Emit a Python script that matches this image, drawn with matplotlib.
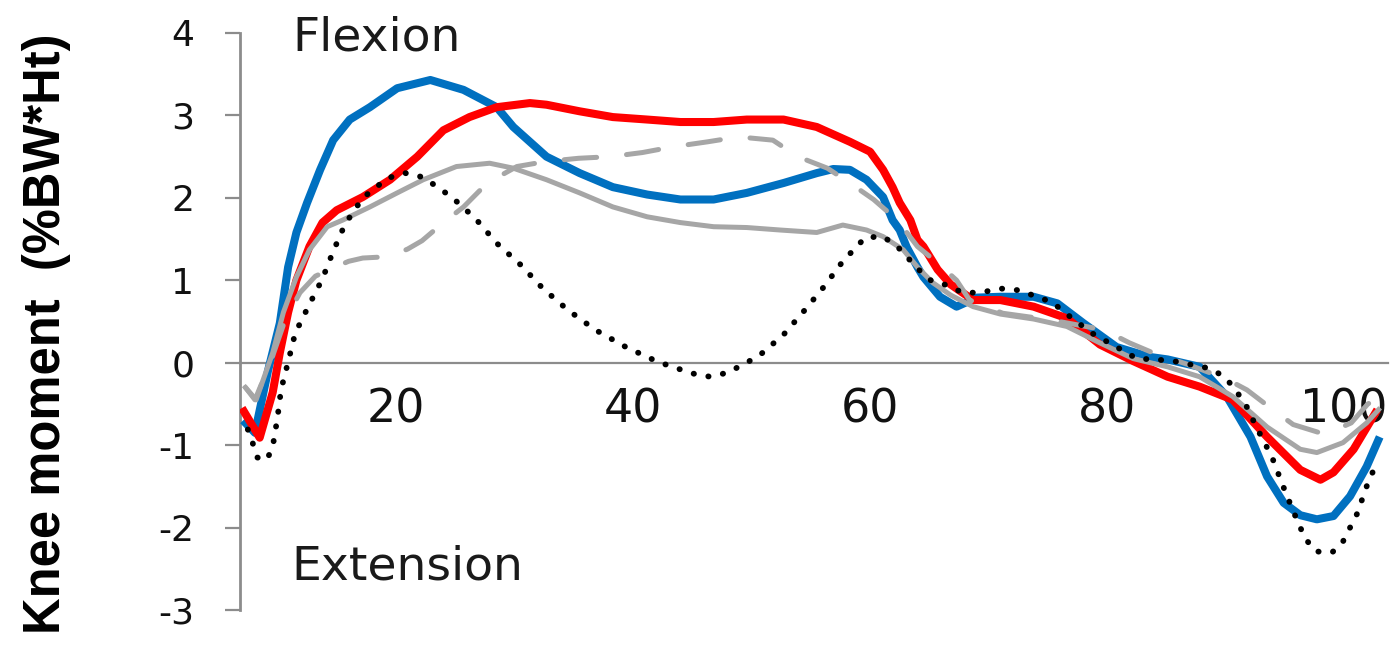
import matplotlib
matplotlib.use("Agg")
import matplotlib.pyplot as plt

plt.rcParams['axes.unicode_minus'] = False
plt.rcParams['font.family'] = ['DejaVu Sans']

# ---- data ----
blue_x = [7.1, 8.1, 9.2, 10.2, 10.9, 11.6, 12.5, 13.6, 14.7, 16.1, 17.8, 20.1, 22.9, 25.7,
          28.5, 29.9, 31.3, 32.7, 35.5, 38.3, 41.2, 44.0, 46.8, 49.6, 52.7, 55.5, 56.9,
          58.3, 59.7, 61.1, 61.9, 62.5, 63.1, 64.0, 64.5, 65.9, 67.3, 69.0, 71.0, 73.8,
          75.8, 78.0, 80.8, 83.6, 85.1, 87.8, 90.1, 92.1, 93.5, 94.9, 96.3, 97.7, 99.1,
          100.5, 101.9, 103.0]
blue_y = [-0.70, -0.85, -0.10, 0.48, 1.16, 1.58, 1.94, 2.34, 2.70, 2.95, 3.10, 3.33, 3.43, 3.31,
          3.10, 2.86, 2.68, 2.50, 2.30, 2.13, 2.04, 1.98, 1.98, 2.06, 2.18, 2.30, 2.35,
          2.34, 2.22, 2.01, 1.73, 1.61, 1.40, 1.16, 1.04, 0.80, 0.68, 0.79, 0.80, 0.80,
          0.72, 0.48, 0.19, 0.07, 0.04, -0.05, -0.41, -0.90, -1.38, -1.70, -1.85, -1.90, -1.86,
          -1.62, -1.26, -0.90]

red_x = [7.0, 8.5, 9.6, 10.2, 10.9, 11.6, 12.7, 13.8, 15.0, 17.2, 19.5, 21.8, 24.0, 26.2,
         28.5, 31.3, 32.7, 35.5, 38.3, 41.2, 44.0, 46.8, 49.6, 52.7, 55.5, 58.3, 60.0,
         61.1, 61.9, 62.5, 63.4, 64.0, 64.5, 65.7, 66.8, 68.7, 71.0, 73.8, 76.6, 79.4,
         82.2, 85.1, 87.8, 90.6, 93.5, 96.3, 98.0, 99.1, 100.8, 102.8]
red_y = [-0.55, -0.91, -0.36, 0.12, 0.61, 1.00, 1.41, 1.70, 1.85, 2.01, 2.22, 2.50, 2.82, 2.98,
         3.10, 3.15, 3.13, 3.05, 2.98, 2.95, 2.92, 2.92, 2.95, 2.95, 2.86, 2.68, 2.56,
         2.34, 2.13, 1.94, 1.73, 1.49, 1.41, 1.13, 0.95, 0.76, 0.76, 0.68, 0.54, 0.22,
         0.02, -0.17, -0.29, -0.45, -0.90, -1.30, -1.42, -1.33, -1.05, -0.57]

gray_x = [7.3, 8.2, 9.6, 10.5, 11.6, 12.7, 14.2, 15.5, 17.8, 20.1, 22.3, 25.1, 27.9, 29.9,
          32.7, 35.5, 38.3, 41.2, 44.0, 46.8, 49.6, 52.4, 55.5, 57.7, 59.7, 61.1, 62.8,
          64.0, 65.3, 66.8, 68.7, 71.0, 73.8, 76.6, 79.4, 82.2, 85.1, 87.8, 90.6, 93.5,
          96.3, 97.7, 99.9, 101.9, 102.9]
gray_y = [-0.30, -0.45, 0.12, 0.61, 1.04, 1.37, 1.65, 1.73, 1.89, 2.06, 2.22, 2.38, 2.42, 2.36,
          2.22, 2.06, 1.89, 1.77, 1.70, 1.65, 1.64, 1.61, 1.58, 1.67, 1.61, 1.53, 1.37,
          1.16, 0.97, 0.82, 0.68, 0.59, 0.53, 0.44, 0.24, 0.05, -0.05, -0.17, -0.41, -0.78,
          -1.05, -1.09, -0.97, -0.73, -0.57]

dash_x = [7.3, 8.1, 9.4, 10.6, 11.9, 13.2, 14.7, 16.0, 17.2, 18.5, 19.7, 21.0, 22.2, 24.0,
          25.7, 27.7, 30.2, 32.6, 35.4, 38.1, 40.8, 43.4, 46.3, 48.9, 51.8, 53.9, 56.4,
          58.5, 60.3, 62.3, 64.0, 65.7, 67.3, 68.4, 71.2, 75.2, 79.7, 81.9, 84.2, 86.8,
          90.1, 91.8, 93.8, 95.7, 98.4, 100.6, 102.0, 103.1]
dash_y = [-0.30, -0.45, 0.00, 0.50, 0.85, 1.05, 1.15, 1.23, 1.27, 1.28, 1.30, 1.38, 1.48, 1.70,
          1.89, 2.18, 2.38, 2.44, 2.48, 2.50, 2.55, 2.62, 2.68, 2.74, 2.70, 2.50, 2.36,
          2.16, 1.98, 1.73, 1.41, 1.21, 1.00, 0.76, 0.60, 0.52, 0.40, 0.24, 0.10, -0.02,
          -0.20, -0.33, -0.55, -0.75, -0.87, -0.73, -0.50, -0.41]

dot_x = [7.5, 7.9, 8.3, 9.1, 9.6, 10.0, 10.3, 10.9, 11.5, 12.6, 13.8, 14.7, 15.7, 17.2,
         19.3, 20.8, 22.3, 24.7, 26.7, 28.5, 30.5, 32.4, 34.5, 36.8, 39.4, 42.1, 45.0,
         46.5, 48.0, 50.6, 52.7, 54.5, 56.1, 57.7, 59.6, 61.1, 62.3, 64.1, 65.2, 66.5,
         67.8, 69.3, 71.0, 72.5, 74.1, 75.4, 76.5, 78.7, 81.3, 82.5, 84.0, 85.6, 87.3,
         88.7, 90.0, 91.6, 92.7, 93.9, 94.8, 95.7, 96.7, 97.6, 99.0, 99.9, 101.1, 101.9,
         102.4]
dot_y = [-0.81, -0.97, -1.15, -1.18, -1.02, -0.67, -0.33, 0.01, 0.36, 0.68, 1.02, 1.35, 1.68, 2.00,
         2.24, 2.30, 2.25, 2.01, 1.75, 1.45, 1.19, 0.90, 0.64, 0.40, 0.19, 0.01, -0.13,
         -0.17, -0.12, 0.08, 0.34, 0.64, 0.92, 1.23, 1.52, 1.53, 1.41, 1.13, 0.99, 0.94,
         0.85, 0.85, 0.90, 0.88, 0.80, 0.73, 0.60, 0.36, 0.15, 0.05, 0.04, 0.02, -0.03,
         -0.07, -0.18, -0.48, -0.81, -1.14, -1.48, -1.80, -2.13, -2.29, -2.30, -2.17, -1.83, -1.50,
         -1.33]

x_ticks = [20, 40, 60, 80, 100]
y_ticks = [-3, -2, -1, 0, 1, 2, 3, 4]

# ---- figure ----
fig = plt.figure(figsize=(14, 6.49), dpi=100)
ax = fig.add_axes([240 / 1400, 1 - 610 / 649, (1388 - 240) / 1400, (610 - 33) / 649])

ax.plot(blue_x, blue_y, color='#0070C0', lw=5.8, solid_joinstyle='round', solid_capstyle='butt', zorder=3)
ax.plot(red_x, red_y, color='#FF0000', lw=5.8, solid_joinstyle='round', solid_capstyle='butt', zorder=4)
ax.plot(gray_x, gray_y, color='#A6A6A6', lw=3.6, solid_joinstyle='round', zorder=5)
ax.plot(dash_x, dash_y, color='#A6A6A6', lw=3.6, dashes=(6.5, 6.0), dash_capstyle='round', zorder=6)
ax.plot(dot_x, dot_y, color='#000000', lw=4.2, dashes=(0.05, 2.5), dash_capstyle='round', zorder=7)

ax.set_xlim(6.84, 103.7)
ax.set_ylim(-3, 4)

ax.set_xticks(x_ticks)
ax.set_yticks(y_ticks)
ax.set_xticklabels([str(v) for v in x_ticks])
ax.set_yticklabels([str(v) for v in y_ticks])

for s in ['top', 'right']:
    ax.spines[s].set_visible(False)
ax.spines['bottom'].set_position(('data', 0))
ax.spines['bottom'].set_color('#8C8C8C')
ax.spines['bottom'].set_linewidth(1.6)
ax.spines['left'].set_color('#8C8C8C')
ax.spines['left'].set_linewidth(2.0)
for s in ax.spines.values():
    s.set_zorder(1)
ax.set_axisbelow(True)

ax.tick_params(axis='x', length=0, pad=18, labelsize=33, labelcolor='#111111')
ax.tick_params(axis='y', direction='out', length=11, width=1.6, color='#8C8C8C',
               pad=22, labelsize=26, labelcolor='#111111')

ax.text(11.3, 3.79, 'Flexion', fontsize=34, color='#1a1a1a', ha='left', va='baseline')
ax.text(11.2, -2.63, 'Extension', fontsize=34, color='#1a1a1a', ha='left', va='baseline')

fig.text(47 / 1400, 1 - 334 / 649, 'Knee moment  (%BW*Ht)', rotation=90,
         ha='center', va='center', fontsize=36.5, fontweight='bold',
         family=['Liberation Sans', 'DejaVu Sans'])

fig.savefig('out.png', dpi=100)
